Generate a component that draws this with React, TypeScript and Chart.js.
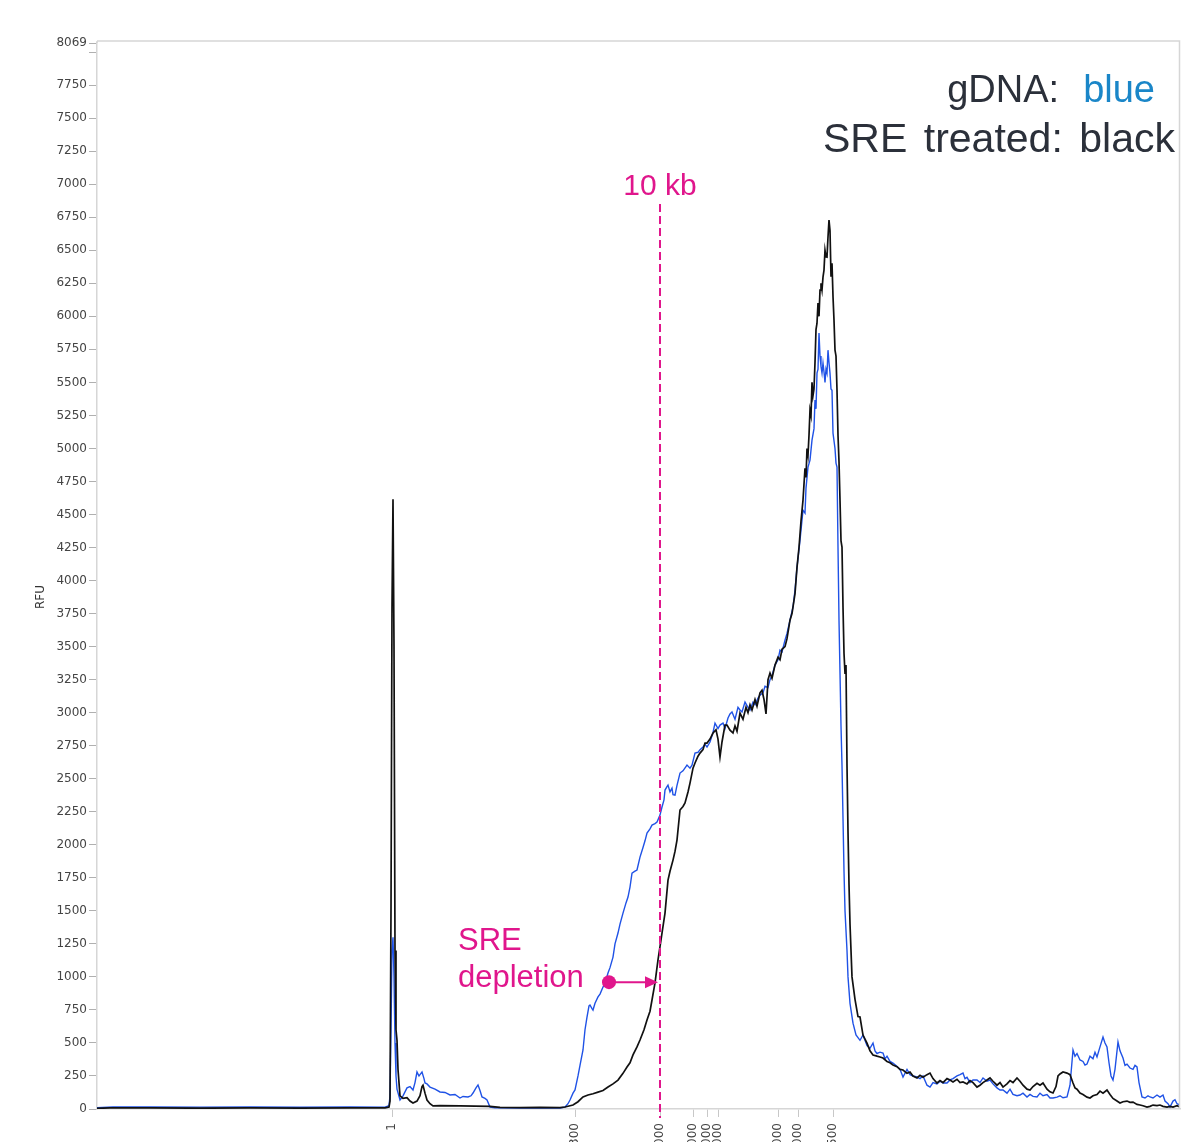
import React, { useEffect, useRef } from "react";
import { Chart, registerables } from "chart.js";

Chart.register(...registerables);

// ---- data ----
const sizeTickPositions = [392, 575, 660, 693, 707, 718, 778, 798, 833];
const sizeTickLabels = ["1", "1300", "10000", "17000", "20000", "24000", "33000", "38000", "48500"];

const rfuTicks = [
  0, 250, 500, 750, 1000, 1250, 1500, 1750, 2000, 2250, 2500, 2750, 3000, 3250, 3500, 3750,
  4000, 4250, 4500, 4750, 5000, 5250, 5500, 5750, 6000, 6250, 6500, 6750, 7000, 7250, 7500,
  7750, 8000, 8069,
];
const rfuMax = 8069;

// SRE treated (black)
const sreX = [
  97, 110, 150, 200, 250, 300, 350, 385, 389, 390, 391, 392, 393, 394, 395, 396, 397, 398, 400, 403,
  407, 410, 413, 417, 420, 422, 423, 425, 427, 430, 433, 440, 460, 490, 500, 520, 540, 560, 565, 573,
  578, 583, 588, 593, 598, 603, 608, 613, 618, 623, 627, 630, 633, 637, 640, 644, 647, 650, 652, 655,
  658, 660, 662, 665, 668, 670, 673, 675, 677, 680, 683, 685, 688, 690, 693, 695, 698, 700, 703, 705,
  707, 710, 713, 716, 718, 720, 722, 725, 727, 730, 733, 735, 737, 740, 743, 746, 748, 750, 752, 755,
  757, 760, 762, 764, 766, 768, 770, 772, 775, 778, 780, 782, 785, 787, 790, 792, 795, 797, 799, 801,
  803, 805, 806, 807, 808, 809, 810, 811, 812, 813, 814, 815, 816, 817, 818, 819, 820, 821, 822, 823,
  824, 825, 826, 827, 828, 829, 830, 831, 832, 833, 834, 835, 836, 837, 838, 839, 840, 841, 842, 843,
  844, 845, 846, 847, 848, 849, 850, 852, 855, 858, 860, 863, 867, 870, 873, 877, 880, 883, 887, 890,
  893, 897, 900, 903, 907, 910, 913, 917, 920, 923, 927, 930, 933, 937, 940, 943, 947, 950, 953, 957,
  960, 963, 967, 970, 973, 977, 980, 983, 987, 990, 993, 997, 1000, 1003, 1007, 1010, 1013, 1017, 1020, 1023,
  1027, 1030, 1033, 1037, 1040, 1043, 1047, 1050, 1053, 1056, 1058, 1060, 1063, 1067, 1070, 1073, 1075, 1077, 1080, 1083,
  1087, 1090, 1093, 1097, 1100, 1103, 1107, 1110, 1113, 1117, 1120, 1123, 1127, 1130, 1133, 1137, 1140, 1143, 1147, 1150,
  1153, 1157, 1160, 1163, 1167, 1170, 1173, 1177, 1180,
];
const sreRFU = [
  5, 8, 8, 6, 8, 7, 8, 8, 15, 60, 1500, 3800, 4616, 3500, 1200, 600, 520, 300, 100, 80,
  85, 60, 45, 60, 100, 170, 180, 120, 68, 40, 23, 25, 23, 20, 12, 10, 12, 10, 15, 30,
  55, 91, 106, 115, 128, 140, 166, 190, 219, 270, 318, 350, 409, 470, 522, 600, 674, 740, 825, 954,
  1128, 1230, 1332, 1483, 1733, 1800, 1884, 1950, 2036, 2263, 2290, 2316, 2400, 2467, 2580, 2619, 2670, 2694, 2720, 2770,
  2770, 2800, 2846, 2870, 2800, 2664, 2778, 2906, 2906, 2868, 2846, 2900, 2860, 2997, 2950, 3040, 3000, 3060, 3020, 3100,
  3050, 3150, 3170, 3100, 2990, 3250, 3300, 3260, 3360, 3420, 3400, 3480, 3500, 3560, 3700, 3750, 3900, 4100, 4250, 4450,
  4609, 4850, 4780, 5000, 4950, 5100, 5290, 5250, 5500, 5400, 5450, 5650, 5900, 5948, 6100, 6000, 6198, 6250, 6200, 6297,
  6350, 6500, 6450, 6448, 6600, 6728, 6650, 6300, 6402, 6150, 5971, 5744, 5700, 5441, 5100, 4900, 4609, 4300, 4253, 3800,
  3450, 3300, 3360, 2600, 2100, 1700, 1400, 1000, 830, 700, 696, 560, 499, 440, 409, 400, 394, 386, 360, 350,
  333, 320, 300, 295, 270, 280, 250, 235, 255, 240, 260, 272, 230, 197, 215, 200, 230, 219, 205, 225,
  200, 205, 190, 215, 200, 166, 180, 200, 220, 235, 210, 180, 200, 166, 190, 215, 200, 235, 210, 180,
  150, 144, 170, 195, 180, 197, 150, 130, 121, 170, 250, 265, 280, 272, 260, 197, 160, 150, 121, 110,
  90, 83, 100, 110, 135, 120, 144, 110, 80, 60, 45, 55, 60, 50, 52, 35, 30, 25, 15, 20,
  30, 25, 30, 20, 15, 20, 15, 25, 15,
];

// gDNA (blue)
const gdnaX = [
  97, 113, 150, 200, 250, 300, 350, 385, 389, 390, 391, 392, 393, 394, 395, 396, 397, 400, 403, 407,
  410, 413, 415, 417, 419, 420, 422, 424, 425, 427, 430, 435, 440, 445, 450, 455, 460, 463, 468, 471,
  473, 476, 478, 480, 482, 485, 487, 490, 495, 520, 540, 560, 565, 568, 570, 573, 575, 578, 580, 583,
  585, 587, 589, 590, 592, 593, 595, 598, 600, 603, 605, 608, 610, 613, 615, 618, 620, 623, 626, 628,
  630, 632, 635, 637, 640, 643, 645, 647, 650, 652, 655, 657, 660, 662, 664, 665, 667, 668, 670, 672,
  673, 675, 677, 680, 683, 687, 690, 692, 695, 698, 700, 703, 705, 707, 710, 713, 715, 718, 720, 723,
  725, 728, 730, 732, 735, 738, 740, 742, 745, 748, 750, 753, 755, 758, 760, 763, 765, 768, 770, 772,
  775, 778, 780, 782, 785, 787, 790, 793, 795, 797, 800, 803, 805, 806, 808, 810, 812, 814, 815, 816,
  817, 818, 819, 820, 821, 822, 823, 824, 825, 826, 827, 828, 829, 830, 831, 832, 833, 835, 836, 837,
  838, 839, 840, 841, 842, 843, 844, 845, 847, 848, 850, 853, 856, 860, 863, 865, 867, 870, 873, 875,
  877, 880, 883, 885, 887, 890, 893, 896, 900, 903, 907, 910, 913, 917, 920, 923, 927, 930, 933, 937,
  940, 943, 947, 950, 953, 957, 960, 963, 965, 967, 970, 973, 977, 980, 983, 987, 990, 993, 997, 1000,
  1003, 1007, 1010, 1013, 1017, 1020, 1023, 1027, 1030, 1033, 1037, 1040, 1043, 1047, 1050, 1053, 1057, 1060, 1063, 1067,
  1070, 1073, 1075, 1077, 1080, 1083, 1085, 1087, 1090, 1093, 1095, 1097, 1100, 1103, 1105, 1107, 1109, 1111, 1113, 1115,
  1118, 1120, 1123, 1125, 1127, 1130, 1133, 1135, 1137, 1139, 1142, 1145, 1148, 1150, 1153, 1157, 1160, 1163, 1165, 1168,
  1170, 1173, 1175, 1177, 1180,
];
const gdnaRFU = [
  10, 15, 15, 14, 15, 13, 15, 14, 25, 100, 600, 1200, 1300, 1000, 500, 250, 150, 68, 100, 160,
  170, 144, 200, 280, 250, 260, 280, 230, 197, 190, 166, 150, 129, 125, 106, 110, 83, 95, 91, 100,
  121, 160, 182, 140, 91, 80, 68, 15, 10, 8, 10, 8, 15, 40, 68, 120, 144, 250, 330, 447,
  600, 696, 780, 787, 760, 749, 800, 848, 870, 923, 950, 1029, 1070, 1150, 1250, 1332, 1400, 1483, 1560, 1604,
  1680, 1786, 1800, 1809, 1907, 1980, 2030, 2089, 2120, 2149, 2160, 2172, 2225, 2286, 2340, 2414, 2440, 2452, 2400, 2429,
  2380, 2376, 2450, 2543, 2560, 2603, 2580, 2603, 2694, 2700, 2720, 2740, 2760, 2740, 2778, 2850, 2921, 2880, 2906, 2921,
  2880, 2960, 2990, 3005, 2950, 3040, 3020, 3005, 3080, 3040, 3020, 3080, 3060, 3110, 3133, 3150, 3200, 3190, 3250, 3280,
  3360, 3400, 3474, 3460, 3549, 3600, 3701, 3800, 3928, 4100, 4306, 4533, 4511, 4700, 4859, 4912, 5063, 5150, 5366, 5300,
  5570, 5600, 5873, 5700, 5620, 5570, 5646, 5580, 5500, 5600, 5570, 5744, 5650, 5570, 5450, 5441, 5116, 5000, 4889, 4859,
  4253, 3700, 3300, 2900, 2600, 2200, 1800, 1500, 1200, 1000, 800, 650, 560, 520, 560, 520, 480, 460, 499, 440,
  420, 430, 424, 380, 400, 360, 348, 330, 300, 242, 300, 260, 250, 242, 230, 250, 180, 166, 200, 190,
  210, 197, 197, 220, 230, 250, 260, 272, 230, 240, 200, 219, 219, 200, 235, 210, 219, 190, 160, 144,
  144, 120, 150, 110, 100, 106, 120, 90, 110, 95, 91, 120, 100, 110, 83, 83, 90, 100, 85, 91,
  180, 447, 400, 420, 371, 360, 333, 340, 400, 380, 430, 394, 470, 545, 500, 469, 350, 250, 219, 300,
  507, 440, 386, 330, 340, 310, 300, 330, 318, 200, 91, 83, 100, 91, 83, 106, 90, 106, 60, 40,
  15, 60, 70, 40, 30,
];

// annotations
const tenKbPosition = 660;
const tenKbLabel = "10 kb";
const markerTopRFU = 6850;
const depletionFromPos = 609;
const depletionToPos = 658;
const depletionRFU = 960;
const depletionLines = ["SRE", "depletion"];
const legendLine1 = ["gDNA:", "blue"];
const legendLine2 = ["SRE", "treated:", "black"];

const FONT = "'Liberation Sans', Arial, sans-serif";
const TICK_FONT = "'DejaVu Sans', Verdana, sans-serif";
const MAGENTA = "#e0168c";
const LEGEND_DARK = "#2b303a";
const LEGEND_BLUE = "#1a86c8";

const CANVAS_W = 1182;
const CANVAS_H = 1200;
const PLOT_LEFT = 97;
const PLOT_BOTTOM = 1109;

const annotationPlugin = {
  id: "annotationPlugin",
  afterDatasetsDraw(chart: any) {
    const { ctx, chartArea: a, scales } = chart;
    const x = scales.x;
    const y = scales.y;
    ctx.save();

    // plot frame (top + right)
    ctx.strokeStyle = "#d6d6d6";
    ctx.lineWidth = 1.5;
    ctx.beginPath();
    ctx.moveTo(a.left, a.top - 2);
    ctx.lineTo(a.right - 0.5, a.top - 2);
    ctx.lineTo(a.right - 0.5, a.bottom);
    ctx.stroke();
    ctx.beginPath();
    ctx.moveTo(a.left, a.top);
    ctx.lineTo(a.left, a.top - 2);
    ctx.stroke();

    // 10 kb dashed marker
    const mx = x.getPixelForValue(tenKbPosition);
    ctx.strokeStyle = MAGENTA;
    ctx.lineWidth = 2;
    ctx.setLineDash([8, 4]);
    ctx.beginPath();
    ctx.moveTo(mx, y.getPixelForValue(markerTopRFU));
    ctx.lineTo(mx, a.bottom + 9);
    ctx.stroke();
    ctx.setLineDash([]);

    ctx.fillStyle = MAGENTA;
    ctx.font = `30px ${FONT}`;
    ctx.textAlign = "center";
    ctx.textBaseline = "alphabetic";
    ctx.fillText(tenKbLabel, mx, y.getPixelForValue(markerTopRFU) - 9);

    // SRE depletion arrow
    const dy = y.getPixelForValue(depletionRFU);
    const dx0 = x.getPixelForValue(depletionFromPos);
    const dx1 = x.getPixelForValue(depletionToPos);
    ctx.beginPath();
    ctx.arc(dx0, dy, 7, 0, Math.PI * 2);
    ctx.fill();
    ctx.lineWidth = 2;
    ctx.beginPath();
    ctx.moveTo(dx0, dy);
    ctx.lineTo(dx1 - 10, dy);
    ctx.stroke();
    ctx.beginPath();
    ctx.moveTo(dx1, dy);
    ctx.lineTo(dx1 - 13, dy - 6);
    ctx.lineTo(dx1 - 13, dy + 6);
    ctx.closePath();
    ctx.fill();

    ctx.font = `31px ${FONT}`;
    ctx.textAlign = "left";
    ctx.fillText(depletionLines[0], dx0 - 151, dy - 32);
    ctx.fillText(depletionLines[1], dx0 - 151, dy + 5);

    // legend text
    ctx.textAlign = "right";
    ctx.font = `38px ${FONT}`;
    let rx = a.right - 25;
    ctx.fillStyle = LEGEND_BLUE;
    ctx.fillText(legendLine1[1], rx, a.top + 59);
    rx -= ctx.measureText(legendLine1[1]).width + 24;
    ctx.fillStyle = LEGEND_DARK;
    ctx.fillText(legendLine1[0], rx, a.top + 59);

    ctx.font = `41px ${FONT}`;
    rx = a.right - 5;
    ctx.fillStyle = LEGEND_DARK;
    for (let i = legendLine2.length - 1; i >= 0; i--) {
      ctx.fillText(legendLine2[i], rx, a.top + 109);
      rx -= ctx.measureText(legendLine2[i]).width + 16.5;
    }

    // y title
    ctx.save();
    ctx.fillStyle = "#333";
    ctx.font = `12px ${TICK_FONT}`;
    ctx.translate(41, (a.top + a.bottom) / 2 + 21);
    ctx.rotate(-Math.PI / 2);
    ctx.textAlign = "center";
    ctx.textBaseline = "middle";
    ctx.fillText("RFU", 0, 0);
    ctx.restore();

    ctx.restore();
  },
};

export default function App() {
  const canvasRef = useRef<HTMLCanvasElement | null>(null);

  useEffect(() => {
    const canvas = canvasRef.current;
    if (!canvas) return;
    const chart = new Chart(canvas, {
      type: "line",
      data: {
        datasets: [
          {
            label: "SRE treated",
            data: sreX.map((v, i) => ({ x: v, y: sreRFU[i] })),
            borderColor: "#111111",
            borderWidth: 1.7,
            pointRadius: 0,
            tension: 0,
            fill: false,
          },
          {
            label: "gDNA",
            data: gdnaX.map((v, i) => ({ x: v, y: gdnaRFU[i] })),
            borderColor: "#1f52e6",
            borderWidth: 1.4,
            pointRadius: 0,
            tension: 0,
            fill: false,
          },
        ],
      },
      options: {
        animation: false,
        responsive: false,
        devicePixelRatio: 1,
        layout: { padding: { top: 43, right: 2, left: 0, bottom: 0 } },
        plugins: { legend: { display: false }, tooltip: { enabled: false } },
        scales: {
          x: {
            type: "linear",
            min: 97,
            max: 1180,
            afterBuildTicks: (scale: any) => {
              scale.ticks = sizeTickPositions.map((v) => ({ value: v }));
            },
            afterFit: (scale: any) => {
              scale.height = CANVAS_H - PLOT_BOTTOM;
            },
            ticks: {
              autoSkip: false,
              minRotation: 90,
              maxRotation: 90,
              padding: 6,
              color: "#444",
              font: { family: TICK_FONT, size: 12 },
              callback: (_v: any, i: number) => sizeTickLabels[i],
            },
            grid: { drawOnChartArea: false, tickLength: 8, color: "#c8c8c8", lineWidth: 1 },
            border: { color: "#d6d6d6", width: 1.5 },
          },
          y: {
            type: "linear",
            min: 0,
            max: rfuMax,
            afterBuildTicks: (scale: any) => {
              scale.ticks = rfuTicks.map((v) => ({ value: v }));
            },
            afterFit: (scale: any) => {
              scale.width = PLOT_LEFT;
            },
            ticks: {
              autoSkip: false,
              padding: 2,
              color: "#444",
              font: { family: TICK_FONT, size: 12 },
              callback: (v: any) => (v === 8000 ? "" : String(v)),
            },
            grid: { drawOnChartArea: false, tickLength: 8, color: "#b0b0b0", lineWidth: 1 },
            border: { color: "#d6d6d6", width: 1.5 },
          },
        },
      },
      plugins: [annotationPlugin],
    } as any);
    return () => chart.destroy();
  }, []);

  return (
    <div
      style={{
        position: "fixed",
        left: 0,
        top: 0,
        width: CANVAS_W,
        height: 1142,
        overflow: "hidden",
        background: "#fff",
      }}
    >
      <canvas ref={canvasRef} width={CANVAS_W} height={CANVAS_H} style={{ display: "block" }} />
    </div>
  );
}
